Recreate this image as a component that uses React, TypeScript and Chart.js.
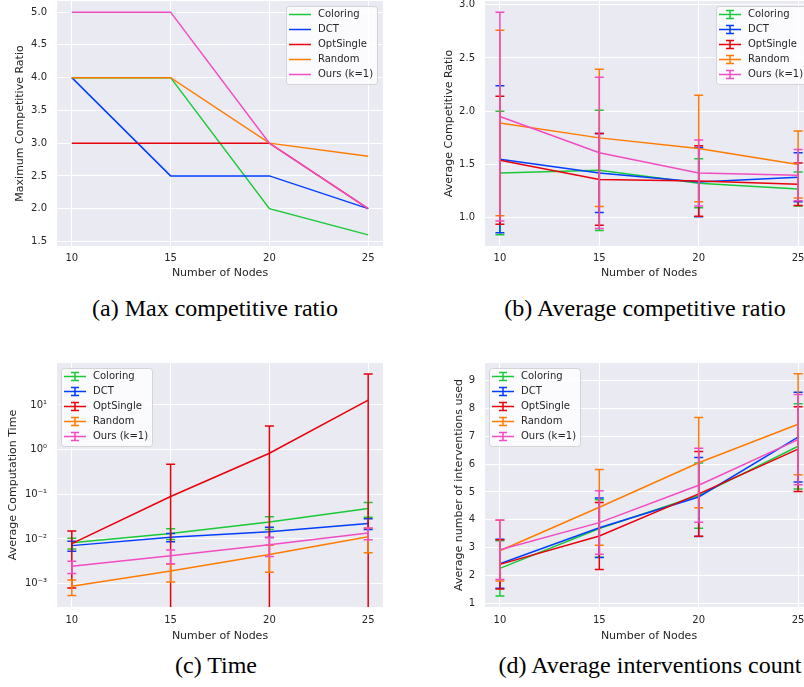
import React, { useEffect, useRef } from 'react';
import { Chart, registerables } from 'chart.js';

Chart.register(...registerables);

// ---------- shared ----------
const nodes = [10, 15, 20, 25];
const seriesLabels = ['Coloring', 'DCT', 'OptSingle', 'Random', 'Ours (k=1)'];
const seriesColors = ['#1ac938', '#023eff', '#e8000b', '#ff7c00', '#f14cc1'];
const xTicks = [10, 15, 20, 25];

// ---------- (a) Max competitive ratio ----------
const maxColoring = [4, 4, 2, 1.6];
const maxDCT = [4, 2.5, 2.5, 2.0];
const maxOptSingle = [3, 3, 3, 2];
const maxRandom = [4, 4, 3, 2.8];
const maxOurs = [5, 5, 3, 2];
const maxTicks = [1.5, 2.0, 2.5, 3.0, 3.5, 4.0, 4.5, 5.0];

// ---------- (b) Average competitive ratio (mean, std) ----------
const avgColoring = [1.42, 1.445, 1.325, 1.27];
const avgColoringStd = [0.58, 0.565, 0.23, 0.16];
const avgDCT = [1.55, 1.42, 1.335, 1.38];
const avgDCTStd = [0.69, 0.37, 0.325, 0.23];
const avgOptSingle = [1.54, 1.36, 1.345, 1.315];
const avgOptSingleStd = [0.6, 0.43, 0.33, 0.2];
const avgRandom = [1.89, 1.75, 1.65, 1.5];
const avgRandomStd = [0.87, 0.645, 0.5, 0.315];
const avgOurs = [1.95, 1.61, 1.42, 1.4];
const avgOursStd = [0.98, 0.71, 0.31, 0.24];
const avgTicks = [1.0, 1.5, 2.0, 2.5, 3.0];

// ---------- (c) Time (mean, std) ----------
const timeColoring = [0.0082, 0.0133, 0.0239, 0.0482];
const timeColoringStd = [0.0022, 0.0036, 0.0075, 0.0175];
const timeDCT = [0.0071, 0.011, 0.0145, 0.0223];
const timeDCTStd = [0.0018, 0.0023, 0.0037, 0.0061];
const timeOptSingle = [0.0079, 0.0895, 0.83, 12.9];
const timeOptSingleStd = [0.0071, 0.38, 2.57, 36.4];
const timeRandom = [0.00087, 0.00192, 0.0045, 0.0112];
const timeRandomStd = [0.00033, 0.00083, 0.0027, 0.0063];
const timeOurs = [0.00244, 0.00423, 0.00744, 0.01355];
const timeOursStd = [0.00075, 0.00145, 0.0034, 0.004];
const timeTicks = [1e-3, 1e-2, 1e-1, 1, 10];
const timeTickLabels = ['10\u207B\u00B3', '10\u207B\u00B2', '10\u207B\u00B9', '10\u2070', '10\u00B9'];

// ---------- (d) Interventions (mean, std) ----------
const intColoring = [2.255, 3.69, 4.87, 6.64];
const intColoringStd = [0.99, 1.03, 1.17, 1.53];
const intDCT = [2.42, 3.715, 4.82, 6.97];
const intDCTStd = [0.88, 1.065, 1.42, 1.61];
const intOptSingle = [2.4, 3.42, 4.93, 6.54];
const intOptSingleStd = [0.88, 1.2, 1.52, 1.52];
const intRandom = [2.89, 4.45, 6.05, 7.43];
const intRandomStd = [1.09, 1.36, 1.62, 1.81];
const intOurs = [2.925, 3.9, 5.24, 6.88];
const intOursStd = [1.07, 1.14, 1.33, 1.62];
const intTicks = [1, 2, 3, 4, 5, 6, 7, 8, 9];

const TEXT = '#262626';
const FONT = 'DejaVu Sans';

type PanelProps = {
  means: number[][];
  stds?: number[][];
  yType: 'linear' | 'logarithmic';
  yMin: number;
  yMax: number;
  yTicks: number[];
  yFmt: (v: number) => string;
  yTitle: string;
  left: number;
  top: number;
  width: number;
  height: number;
  yAxisW: number;
  xAxisH: number;
  padTop: number;
  padRight: number;
  yTitlePad: number;
  xTickPad: number;
  corner: 'ur' | 'ul';
};

function makeLegend(errorbars: boolean, corner: 'ur' | 'ul') {
  return {
    id: 'boxLegend',
    afterDraw(chart: any) {
      const { ctx, chartArea: a } = chart;
      const w = 91;
      const h = 78;
      const x0 = corner === 'ur' ? a.right - 6 - w : a.left + 4;
      const y0 = a.top + 5;
      ctx.save();
      ctx.beginPath();
      ctx.roundRect(Math.round(x0) + 0.5, Math.round(y0) + 0.5, w, h, 3);
      ctx.fillStyle = 'rgba(255,255,255,0.8)';
      ctx.fill();
      ctx.strokeStyle = 'rgba(204,204,204,0.8)';
      ctx.lineWidth = 1;
      ctx.stroke();
      seriesLabels.forEach((label, i) => {
        const cy = y0 + 8.5 + i * 15;
        ctx.strokeStyle = seriesColors[i];
        ctx.lineWidth = 1.5;
        ctx.beginPath();
        ctx.moveTo(x0 + 3, cy);
        ctx.lineTo(x0 + 25, cy);
        if (errorbars) {
          const cx = x0 + 14;
          ctx.moveTo(cx, cy - 4);
          ctx.lineTo(cx, cy + 4);
          ctx.moveTo(cx - 4, cy - 4);
          ctx.lineTo(cx + 4, cy - 4);
          ctx.moveTo(cx - 4, cy + 4);
          ctx.lineTo(cx + 4, cy + 4);
        }
        ctx.stroke();
        ctx.fillStyle = TEXT;
        ctx.font = `10px "${FONT}"`;
        ctx.textBaseline = 'middle';
        ctx.textAlign = 'left';
        ctx.fillText(label, x0 + 32, cy);
      });
      ctx.restore();
    },
  };
}

const bgPlugin = {
  id: 'plotBg',
  beforeDraw(chart: any) {
    const { ctx, chartArea: a } = chart;
    ctx.save();
    ctx.fillStyle = '#eaeaf2';
    ctx.fillRect(a.left, a.top, a.right - a.left, a.bottom - a.top);
    ctx.restore();
  },
};

const errorBarPlugin = {
  id: 'errBars',
  afterDatasetDraw(chart: any, args: any) {
    const ds: any = chart.data.datasets[args.index];
    if (!ds.errStd) return;
    const { ctx, chartArea: a, scales } = chart;
    const xs = scales.x;
    const ys = scales.y;
    const isLog = ys.type === 'logarithmic';
    ctx.save();
    ctx.beginPath();
    ctx.rect(a.left, a.top, a.right - a.left, a.bottom - a.top);
    ctx.clip();
    ctx.strokeStyle = ds.borderColor;
    ctx.lineWidth = 1.5;
    ds.data.forEach((p: any, i: number) => {
      const s = ds.errStd[i];
      const px = xs.getPixelForValue(p.x);
      const hi = p.y + s;
      const lo = p.y - s;
      const pyHi = ys.getPixelForValue(hi);
      const loOk = !isLog || lo > 0;
      const pyLo = loOk ? ys.getPixelForValue(lo) : a.bottom + 20;
      const cw = 4.5;
      ctx.beginPath();
      ctx.moveTo(px, pyHi);
      ctx.lineTo(px, pyLo);
      ctx.moveTo(px - cw, pyHi);
      ctx.lineTo(px + cw, pyHi);
      if (loOk) {
        ctx.moveTo(px - cw, pyLo);
        ctx.lineTo(px + cw, pyLo);
      }
      ctx.stroke();
    });
    ctx.restore();
  },
};

function Panel(props: PanelProps) {
  const ref = useRef<HTMLCanvasElement>(null);
  useEffect(() => {
    const p = props;
    const datasets = p.means.map((m, i) => ({
      label: seriesLabels[i],
      data: nodes.map((n, j) => ({ x: n, y: m[j] })),
      borderColor: seriesColors[i],
      backgroundColor: seriesColors[i],
      borderWidth: 1.5,
      pointRadius: 0,
      tension: 0,
      fill: false,
      order: p.means.length - 1 - i,
      errStd: p.stds ? p.stds[i] : undefined,
    }));
    const chart = new Chart(ref.current as HTMLCanvasElement, {
      type: 'line',
      data: { datasets } as any,
      options: {
        responsive: false,
        animation: false,
        devicePixelRatio: 1,
        layout: { padding: { left: 0, top: p.padTop, right: p.padRight, bottom: 0 } },
        plugins: { legend: { display: false }, tooltip: { enabled: false } },
        scales: {
          x: {
            type: 'linear',
            min: 9.25,
            max: 25.75,
            afterBuildTicks: (s: any) => {
              s.ticks = xTicks.map((v) => ({ value: v }));
            },
            afterFit: (s: any) => {
              s.height = p.xAxisH;
            },
            grid: { color: '#ffffff', lineWidth: 1, drawTicks: false },
            border: { display: false },
            ticks: {
              padding: p.xTickPad,
              color: TEXT,
              font: { family: FONT, size: 10 },
              autoSkip: false,
              maxRotation: 0,
              callback: (v: any) => String(v),
            },
            title: {
              display: true,
              text: 'Number of Nodes',
              color: TEXT,
              font: { family: FONT, size: 11 },
              padding: { top: 0, bottom: 0 },
            },
          },
          y: {
            type: p.yType,
            min: p.yMin,
            max: p.yMax,
            afterBuildTicks: (s: any) => {
              s.ticks = p.yTicks.map((v) => ({ value: v }));
            },
            afterFit: (s: any) => {
              s.width = p.yAxisW;
            },
            grid: { color: '#ffffff', lineWidth: 1, drawTicks: false },
            border: { display: false },
            ticks: {
              padding: 10,
              color: TEXT,
              font: { family: FONT, size: 10 },
              autoSkip: false,
              callback: (v: any) => p.yFmt(Number(v)),
            },
            title: {
              display: true,
              text: p.yTitle,
              color: TEXT,
              font: { family: FONT, size: 11 },
              padding: { top: p.yTitlePad, bottom: 0 },
            },
          },
        } as any,
      },
      plugins: [bgPlugin, errorBarPlugin, makeLegend(!!p.stds, p.corner)],
    });
    return () => chart.destroy();
  }, []);
  return (
    <canvas
      ref={ref}
      width={props.width}
      height={props.height}
      style={{ position: 'absolute', left: props.left, top: props.top, width: props.width, height: props.height }}
    />
  );
}

const captionStyle = (cx: number, top: number): React.CSSProperties => ({
  position: 'absolute',
  left: cx - 200,
  width: 400,
  top,
  textAlign: 'center',
  fontFamily: '"Liberation Serif", "Times New Roman", serif',
  fontSize: 24,
  lineHeight: '24px',
  color: '#000',
  whiteSpace: 'nowrap',
});

export default function App() {
  const fmt1 = (v: number) => v.toFixed(1);
  const fmtInt = (v: number) => String(Math.round(v));
  const fmtLog = (v: number) => {
    const idx = timeTicks.findIndex((t) => Math.abs(Math.log10(t) - Math.log10(v)) < 1e-6);
    return idx >= 0 ? timeTickLabels[idx] : '';
  };
  return (
    <div
      style={{
        position: 'fixed',
        left: 0,
        top: 0,
        width: 804,
        height: 687,
        overflow: 'hidden',
        background: '#ffffff',
      }}
    >
      <Panel
        means={[maxColoring, maxDCT, maxOptSingle, maxRandom, maxOurs]}
        yType="linear"
        yMin={1.43}
        yMax={5.17}
        yTicks={maxTicks}
        yFmt={fmt1}
        yTitle="Maximum Competitive Ratio"
        left={0}
        top={-15}
        width={400}
        height={295}
        yAxisW={57}
        xAxisH={34}
        padTop={16}
        padRight={17}
        yTitlePad={13.4}
        xTickPad={6}
        corner="ur"
      />
      <Panel
        means={[avgColoring, avgDCT, avgOptSingle, avgRandom, avgOurs]}
        stds={[avgColoringStd, avgDCTStd, avgOptSingleStd, avgRandomStd, avgOursStd]}
        yType="linear"
        yMin={0.735}
        yMax={3.035}
        yTicks={avgTicks}
        yFmt={fmt1}
        yTitle="Average Competitive Ratio"
        left={400}
        top={-15}
        width={430}
        height={295}
        yAxisW={85}
        xAxisH={34}
        padTop={16}
        padRight={17}
        yTitlePad={42.4}
        xTickPad={6}
        corner="ur"
      />
      <Panel
        means={[timeColoring, timeDCT, timeOptSingle, timeRandom, timeOurs]}
        stds={[timeColoringStd, timeDCTStd, timeOptSingleStd, timeRandomStd, timeOursStd]}
        yType="logarithmic"
        yMin={Math.pow(10, -3.52)}
        yMax={Math.pow(10, 1.94)}
        yTicks={timeTicks}
        yFmt={fmtLog}
        yTitle="Average Computation Time"
        left={0}
        top={347}
        width={400}
        height={296}
        yAxisW={57}
        xAxisH={36}
        padTop={16}
        padRight={17}
        yTitlePad={6.4}
        xTickPad={7}
        corner="ul"
      />
      <Panel
        means={[intColoring, intDCT, intOptSingle, intRandom, intOurs]}
        stds={[intColoringStd, intDCTStd, intOptSingleStd, intRandomStd, intOursStd]}
        yType="linear"
        yMin={0.87}
        yMax={9.63}
        yTicks={intTicks}
        yFmt={fmtInt}
        yTitle="Average number of interventions used"
        left={400}
        top={347}
        width={430}
        height={296}
        yAxisW={85}
        xAxisH={36}
        padTop={16}
        padRight={17}
        yTitlePad={52.4}
        xTickPad={7}
        corner="ul"
      />
      <div style={captionStyle(215, 296)}>(a) Max competitive ratio</div>
      <div style={captionStyle(645, 296)}>(b) Average competitive ratio</div>
      <div style={captionStyle(216, 653)}>(c) Time</div>
      <div style={captionStyle(650, 653)}>(d) Average interventions count</div>
    </div>
  );
}
